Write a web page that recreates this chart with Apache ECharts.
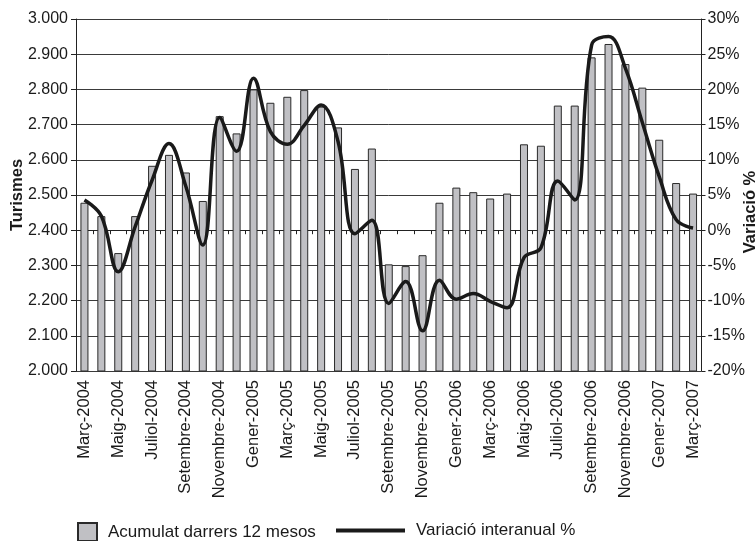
<!DOCTYPE html>
<html>
<head>
<meta charset="utf-8">
<script src="https://cdn.jsdelivr.net/npm/echarts@6/dist/echarts.min.js"></script>
<style>
html,body{margin:0;padding:0;background:#fff;}
#chart{width:756px;height:541px;}
</style>
</head>
<body>
<div id="chart"></div>
<script>
const categories = [
  'Març-2004','Abril-2004','Maig-2004','Juny-2004','Juliol-2004','Agost-2004','Setembre-2004','Octubre-2004','Novembre-2004','Desembre-2004',
  'Gener-2005','Febrer-2005','Març-2005','Abril-2005','Maig-2005','Juny-2005','Juliol-2005','Agost-2005','Setembre-2005','Octubre-2005','Novembre-2005','Desembre-2005',
  'Gener-2006','Febrer-2006','Març-2006','Abril-2006','Maig-2006','Juny-2006','Juliol-2006','Agost-2006','Setembre-2006','Octubre-2006','Novembre-2006','Desembre-2006',
  'Gener-2007','Febrer-2007','Març-2007'
];
const acumulat = [
  2478, 2440, 2335, 2440, 2583, 2614, 2564, 2483, 2724, 2675,
  2800, 2762, 2779, 2798, 2751, 2692, 2574, 2632, 2303, 2298, 2329, 2478,
  2521, 2508, 2490, 2504, 2644, 2640, 2754, 2754, 2891, 2929, 2872, 2805,
  2657, 2534, 2504
];
const variacio = [
  4.3, 2.0, -5.9, 0.5, 7.1, 12.3, 6.2, -2.1, 16.0, 11.2,
  21.6, 14.0, 12.2, 14.9, 17.8, 12.6, -0.5, 1.4, -10.4, -7.3, -14.3, -7.1,
  -9.8, -9.0, -10.1, -11.0, -3.9, -2.5, 7.0, 4.3, 26.3, 27.5, 23.0, 15.3,
  7.6, 1.5, 0.3
];
const leftTicks = {min: 2000, max: 3000, interval: 100};
const rightTicks = {min: -20, max: 30, interval: 5};

const FONT = 'Liberation Sans, Arial, sans-serif';
const TXT = '#1a1a1a';

const chart = echarts.init(document.getElementById('chart'), null, {renderer: 'canvas'});
chart.setOption({
  animation: false,
  backgroundColor: '#ffffff',
  textStyle: {fontFamily: FONT, color: TXT},
  grid: {left: 76, right: 54.5, top: 19, bottom: 170, containLabel: false, outerBoundsMode: 'none'},
  legend: [
    {
      left: 77, top: 522, padding: 0, itemWidth: 19, itemHeight: 18,
      data: [{name: 'Acumulat darrers 12 mesos', icon: 'rect'}],
      textStyle: {fontFamily: FONT, fontSize: 17, color: TXT, padding: [0, 0, 0, 6]}
    },
    {
      left: 336, top: 522, padding: 0, itemWidth: 69, itemHeight: 4,
      data: [{name: 'Variació interanual %', icon: 'rect'}],
      textStyle: {fontFamily: FONT, fontSize: 17, color: TXT, padding: [0, 0, 0, 6]}
    }
  ],
  xAxis: {
    type: 'category',
    data: categories,
    boundaryGap: true,
    axisLine: {lineStyle: {color: '#222', width: 1}},
    axisTick: {show: true, interval: 0, length: 4, lineStyle: {color: '#222'}},
    axisLabel: {interval: 1, rotate: 90, margin: 9, fontSize: 16.5, fontFamily: FONT, color: TXT}
  },
  yAxis: [
    {
      type: 'value', position: 'left',
      min: leftTicks.min, max: leftTicks.max, interval: leftTicks.interval,
      name: 'Turismes', nameLocation: 'middle', nameGap: 50, nameMoveOverlap: false,
      nameTextStyle: {fontFamily: FONT, fontSize: 16.5, fontWeight: 'bold', color: TXT},
      axisLine: {show: true, lineStyle: {color: '#222'}},
      axisTick: {show: true, length: 5, lineStyle: {color: '#222'}},
      axisLabel: {margin: 8, fontSize: 16, fontFamily: FONT, color: TXT,
        formatter: v => (v / 1000).toFixed(3)},
      splitLine: {show: true, lineStyle: {color: '#3a3a3a', width: 1}}
    },
    {
      type: 'value', position: 'right',
      min: rightTicks.min, max: rightTicks.max, interval: rightTicks.interval,
      name: 'Variació %', nameLocation: 'middle', nameGap: 40, nameMoveOverlap: false,
      nameTextStyle: {fontFamily: FONT, fontSize: 16.5, fontWeight: 'bold', color: TXT, padding: [0, 34, 0, 0]},
      axisLine: {show: true, lineStyle: {color: '#222'}},
      axisTick: {show: true, length: 4, lineStyle: {color: '#222'}},
      axisLabel: {margin: 6, fontSize: 16, fontFamily: FONT, color: TXT,
        formatter: v => v + '%'},
      splitLine: {show: false}
    }
  ],
  series: [
    {
      name: 'Acumulat darrers 12 mesos',
      type: 'bar',
      yAxisIndex: 0,
      data: acumulat,
      barWidth: 8,
      itemStyle: {color: '#c0c0c4', borderColor: '#2a2a2a', borderWidth: 1}
    },
    {
      name: 'Variació interanual %',
      type: 'line',
      yAxisIndex: 1,
      data: variacio,
      smooth: 0.4,
      symbol: 'none',
      lineStyle: {color: '#1a1a1a', width: 3.5},
      itemStyle: {color: '#1a1a1a'}
    }
  ]
});
</script>
</body>
</html>
